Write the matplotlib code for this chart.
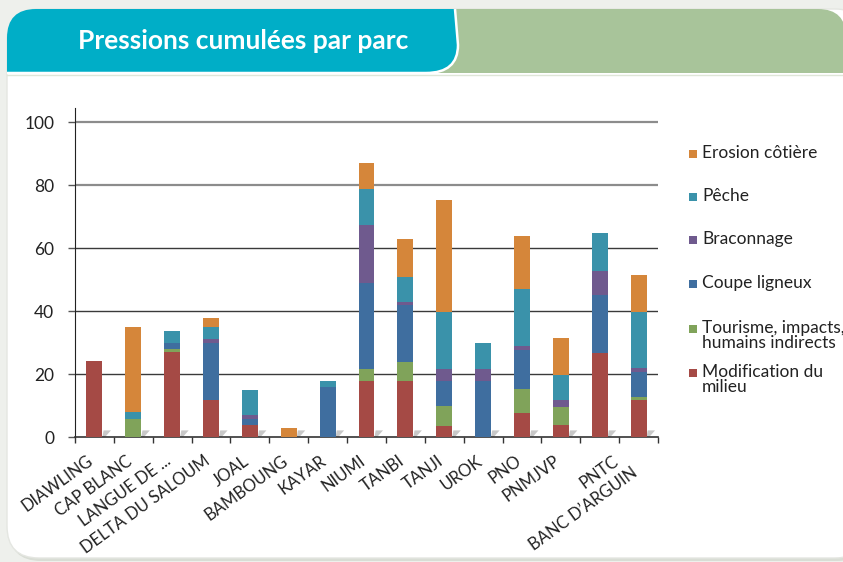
import numpy as np
import matplotlib
matplotlib.use("Agg")
import matplotlib.pyplot as plt
from matplotlib.patches import FancyBboxPatch, Polygon, Rectangle, PathPatch
from matplotlib.path import Path
from matplotlib import font_manager

# Data (stack order bottom -> top)
parcs = ["DIAWLING", "CAP BLANC", "LANGUE DE ...", "DELTA DU SALOUM", "JOAL",
         "BAMBOUNG", "KAYAR", "NIUMI", "TANBI", "TANJI", "UROK", "PNO",
         "PNMJVP", "PNTC", "BANC D\u2019ARGUIN"]
modification = [24, 0, 27, 11.7, 3.7, 0, 0, 17.7, 17.7, 3.4, 0, 7.5, 3.7, 26.6, 11.6]
tourisme = [0, 5.6, 1, 0, 0, 0, 0, 3.8, 6, 6.3, 0, 7.9, 5.7, 0, 1]
coupe = [0, 0, 2, 18, 1.9, 0, 15.8, 27.3, 18.1, 8, 17.7, 12.2, 0, 18.4, 8.2]
braconnage = [0, 0, 0, 1.3, 1.3, 0, 0, 18.4, 1, 3.8, 3.8, 1.2, 2.2, 7.6, 1]
peche = [0, 2.2, 3.7, 3.8, 7.9, 0, 1.9, 11.7, 7.9, 18.1, 8.2, 18.1, 8, 12.1, 17.8]
erosion = [0, 27, 0, 2.9, 0, 2.75, 0, 8, 12.1, 35.8, 0, 16.8, 12, 0, 12]

series = [modification, tourisme, coupe, braconnage, peche, erosion]
names = ["Modification du\nmilieu", "Tourisme, impacts,\nhumains indirects",
         "Coupe ligneux", "Braconnage", "P\u00eache", "Erosion c\u00f4ti\u00e8re"]
colors = ["#a54a45", "#80a35a", "#3f6e9f", "#6f5a8e", "#3a92aa", "#d5863a"]
yticks = [0, 20, 40, 60, 80, 100]
title = "Pressions cumul\u00e9es par parc"


def has_font(name):
    try:
        font_manager.findfont(font_manager.FontProperties(family=name),
                              fallback_to_default=False)
        return True
    except Exception:
        return False


body_font = "Lato" if has_font("Lato") else "DejaVu Sans"
plt.rcParams["font.family"] = [body_font, "DejaVu Sans"]

fig = plt.figure(figsize=(8.43, 5.62), dpi=100)
fig.patch.set_facecolor("#eef0ec")

# background layer in pixel coords
bg = fig.add_axes([0, 0, 1, 1], zorder=-1)
bg.set_xlim(0, 843)
bg.set_ylim(562, 0)
bg.axis("off")

bg.add_patch(FancyBboxPatch((9, 12), 860, 549, boxstyle="round,pad=0,rounding_size=32",
                            fc="#d9ddd5", ec="none"))
bg.add_patch(FancyBboxPatch((7, 9), 860, 549, boxstyle="round,pad=0,rounding_size=32",
                            fc="white", ec="#e4e6e1", lw=1))
# green banner
bg.add_patch(FancyBboxPatch((300, 9), 546, 64, boxstyle="round,pad=0,rounding_size=28",
                            fc="#a8c49a", ec="none"))
bg.add_patch(Rectangle((300, 40), 546, 33, fc="#a8c49a", ec="none"))
# teal banner
verts = [(7, 73), (7, 38), (7, 9), (36, 9), (455, 9), (458, 45), (458, 73),
         (426, 73), (7, 73)]
codes = [Path.MOVETO, Path.LINETO, Path.CURVE3, Path.CURVE3, Path.LINETO,
         Path.LINETO, Path.CURVE3, Path.CURVE3, Path.CLOSEPOLY]
bg.add_patch(PathPatch(Path(verts, codes), fc="#00aec7", ec="none"))
edge = Path([(455, 9), (458, 45), (458, 73), (426, 73), (7, 73)],
            [Path.MOVETO, Path.LINETO, Path.CURVE3, Path.CURVE3, Path.LINETO])
bg.add_patch(PathPatch(edge, fc="none", ec="white", lw=1.8))
bg.plot([7, 843], [75, 75], color="#dfe6d8", lw=1)
bg.text(78, 41, title, color="white", fontsize=19, fontweight="bold",
        va="center", ha="left")

# chart
ax = fig.add_axes([75 / 843, 1 - 437 / 562, 583 / 843, 329 / 562])
ax.set_facecolor("none")
x = np.arange(len(parcs))
w = 0.41
bottom = np.zeros(len(parcs))
for vals, col in zip(series, colors):
    ax.bar(x, vals, w, bottom=bottom, color=col, zorder=3)
    bottom += np.array(vals)

# little base shadows
for i in x:
    xr = i + w / 2
    ax.add_patch(Polygon([(xr, 0), (xr + 0.07, 0), (xr + 0.22, 2.1), (xr + 0.03, 2.1)],
                         closed=True, fc="#c8c8c8", ec="none", zorder=2))

for v in yticks[1:]:
    ax.axhline(v, color="#8c8c8c" if v >= 80 else "#3a3a3a",
               lw=1.6 if v >= 80 else 1.0, zorder=1)

ax.set_xlim(-0.5, len(parcs) - 0.5)
ax.set_ylim(0, 104.5)
ax.set_yticks(yticks)
ax.set_yticklabels([str(v) for v in yticks], fontsize=12.5, color="#222")
ax.tick_params(axis="y", length=5, width=1, color="#555", pad=10)
ax.set_xticks(x)
ax.set_xticklabels([])
ax.tick_params(axis="x", which="major", length=0)
ax.set_xticks(np.arange(-0.5, len(parcs), 1), minor=True)
ax.tick_params(axis="x", which="minor", length=4, width=1, color="#333")
for s in ["top", "right"]:
    ax.spines[s].set_visible(False)
ax.spines["left"].set_color("#222")
ax.spines["bottom"].set_color("#333")
ax.spines["bottom"].set_linewidth(1.2)

# rotated category labels (pixel offsets)
dx = [0] * len(parcs)
dy = [0] * len(parcs)
dx[13] = 20
dy[14] = 12
for i, lab in enumerate(parcs):
    ax.annotate(lab, xy=(i, 0), xycoords=("data", "axes fraction"),
                xytext=(-2 + dx[i] * 0.72, -16 - dy[i] * 0.72), textcoords="offset points",
                rotation=36, rotation_mode="anchor", ha="right", va="center",
                fontsize=12, color="#222")

# legend, drawn by hand (top entry first)
leg_y = [154, 197, 240, 284, 329, 373]
for yy, name, col in zip(leg_y, names[::-1], colors[::-1]):
    bg.add_patch(Rectangle((689, yy - 4), 8, 8, fc=col, ec="none"))
    bg.text(702, yy - 9, name, fontsize=12.5, color="#222", va="top", ha="left",
            linespacing=0.95)

fig.savefig("out.png", dpi=100, facecolor=fig.get_facecolor())
